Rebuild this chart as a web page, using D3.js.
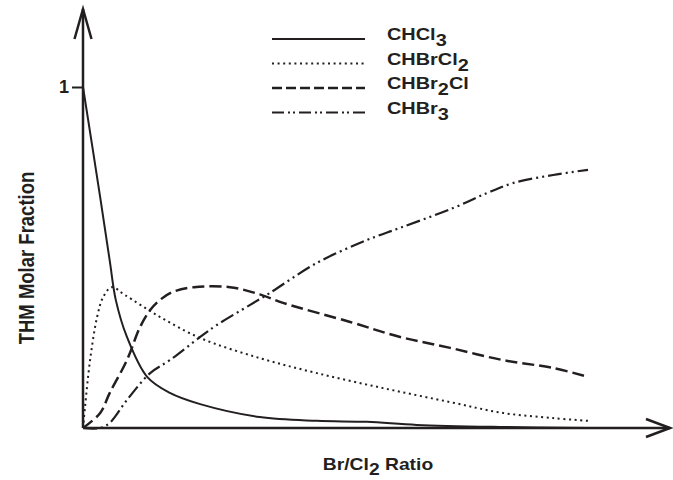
<!DOCTYPE html>
<html>
<head>
<meta charset="utf-8">
<script src="https://cdn.jsdelivr.net/npm/d3@7"></script>
<style>
  body { margin: 0; background: #fff; }
  text { font-family: "Liberation Sans", Arial, sans-serif; font-weight: 700; fill: #231f20; }
</style>
</head>
<body>
<div id="viz"></div>
<script>
var width = 673, height = 480;

// Br/Cl2 ratio (arbitrary units, 0..10) and molar fractions
var chcl3 = [[0,1.0],[0.34,0.677],[0.53,0.49],[0.65,0.375],[0.87,0.267],[1.27,0.150],[1.72,0.103],
  [2.32,0.070],[3.5,0.032],[4.63,0.021],[5.62,0.018],[6.61,0.009],[8.26,0.003],[10,0.0]];
var chbrcl2 = [[0,0],[0.04,0.062],[0.14,0.199],[0.28,0.326],[0.40,0.384],[0.57,0.413],[0.83,0.39],[1.52,0.326],
  [2.32,0.264],[3.5,0.205],[4.63,0.161],[5.94,0.117],[7.27,0.076],[8.32,0.044],[9.31,0.029],[10,0.021]];
var chbr2cl = [[0,0],[0.34,0.044],[0.53,0.103],[0.87,0.199],[1.13,0.296],[1.33,0.346],[1.52,0.375],[1.78,0.399],
  [2.2,0.413],[2.91,0.413],[3.5,0.392],[3.96,0.367],[5.29,0.311],[6.28,0.267],[7.27,0.235],[8.32,0.199],[9.31,0.176],[10,0.150]];
var chbr3 = [[0,0],[0.34,0.0],[0.53,0.015],[0.87,0.082],[1.33,0.161],[1.72,0.199],[2.32,0.267],[2.65,0.302],[3.31,0.361],[3.70,0.396],
  [4.63,0.484],[5.62,0.551],[6.28,0.587],[7.33,0.645],[8.0,0.689],[8.51,0.718],[9.31,0.742],[10,0.757]];

var seriesNames = [["CHCl","3",""],["CHBrCl","2",""],["CHBr","2","Cl"],["CHBr","3",""]];
var yTicks = [1];

var series = [
  {name: seriesNames[0], data: chcl3, dash: null, legendDash: null, w: 2},
  {name: seriesNames[1], data: chbrcl2, dash: "2,3.6", legendDash: "2,3.6", w: 2},
  {name: seriesNames[2], data: chbr2cl, dash: "12,5", legendDash: "10,4", w: 2.5},
  {name: seriesNames[3], data: chbr3, dash: "14,4,2,4,2,4", legendDash: "12,4,2,3,2,4", w: 2.2}
];

var x = d3.scaleLinear().domain([0, 10]).range([83, 588]);
var y = d3.scaleLinear().domain([0, 1]).range([428, 87]);

var svg = d3.select('#viz').append('svg')
  .attr('width', width)
  .attr('height', height);

var ink = '#231f20';
var sx = 1.17; // the original lettering is a bit wider than Liberation Sans

// axes with open arrowheads
var xEnd = x.invert(670), yEnd = y.invert(9);
function stroke(p, w) { return p.attr('stroke', ink).attr('stroke-width', w).attr('fill', 'none'); }
stroke(svg.append('path').attr('d', 'M' + x(0) + ',' + y(0) + 'H' + x(xEnd)), 2.5);
stroke(svg.append('path')
  .attr('d', 'M' + (x(xEnd) - 24) + ',' + (y(0) - 9) + 'L' + x(xEnd) + ',' + y(0) + 'L' + (x(xEnd) - 24) + ',' + (y(0) + 9)), 2.5);
stroke(svg.append('path').attr('d', 'M' + x(0) + ',' + y(0) + 'V' + y(yEnd)), 2.5);
stroke(svg.append('path')
  .attr('d', 'M' + (x(0) - 8.5) + ',' + (y(yEnd) + 30) + 'L' + x(0) + ',' + y(yEnd) + 'L' + (x(0) + 8.5) + ',' + (y(yEnd) + 30)), 2.5);

// y tick "1"
var yAxis = svg.append('g')
  .attr('transform', 'translate(' + x(0) + ',0)')
  .call(d3.axisLeft(y).tickValues(yTicks).tickSize(11).tickPadding(3).tickFormat(d3.format('d')));
yAxis.select('.domain').remove();
yAxis.selectAll('.tick line').attr('stroke', ink).attr('stroke-width', 2);
yAxis.selectAll('.tick text')
  .attr('font-size', 18).attr('font-family', null).attr('font-weight', 700).attr('fill', ink);

// curves
var line = d3.line()
  .x(d => x(d[0]))
  .y(d => y(d[1]))
  .curve(d3.curveCatmullRom.alpha(0.5));

series.forEach(function(s) {
  svg.append('path')
    .datum(s.data)
    .attr('fill', 'none')
    .attr('stroke', ink)
    .attr('stroke-width', s.w)
    .attr('stroke-dasharray', s.dash)
    .attr('d', line);
});

// legend
var legend = svg.append('g').attr('transform', 'translate(272, 39)');
series.forEach(function(s, i) {
  var row = legend.append('g').attr('transform', 'translate(0,' + (i * 24.5) + ')');
  row.append('line')
    .attr('x1', 0).attr('x2', 93)
    .attr('y1', 0).attr('y2', 0)
    .attr('stroke', ink)
    .attr('stroke-width', s.w > 2.2 ? 2.5 : 2)
    .attr('stroke-dasharray', s.legendDash);
  var t = row.append('text')
    .attr('transform', 'translate(115,1) scale(' + sx + ',1)')
    .attr('font-size', 17);
  t.append('tspan').text(s.name[0]);
  t.append('tspan').attr('dy', 6).text(s.name[1]);
  if (s.name[2]) t.append('tspan').attr('dy', -6).text(s.name[2]);
});

// axis titles
var xt = svg.append('text')
  .attr('transform', 'translate(378,470) scale(' + sx + ',1)')
  .attr('text-anchor', 'middle')
  .attr('font-size', 16.5);
xt.append('tspan').text('Br/Cl');
xt.append('tspan').attr('dy', 4.5).text('2');
xt.append('tspan').attr('dy', -4.5).text(' Ratio');

svg.append('text')
  .attr('transform', 'translate(34,258) scale(' + sx + ',1) rotate(-90)')
  .attr('text-anchor', 'middle')
  .attr('font-size', 18.5)
  .text('THM Molar Fraction');
</script>
</body>
</html>
